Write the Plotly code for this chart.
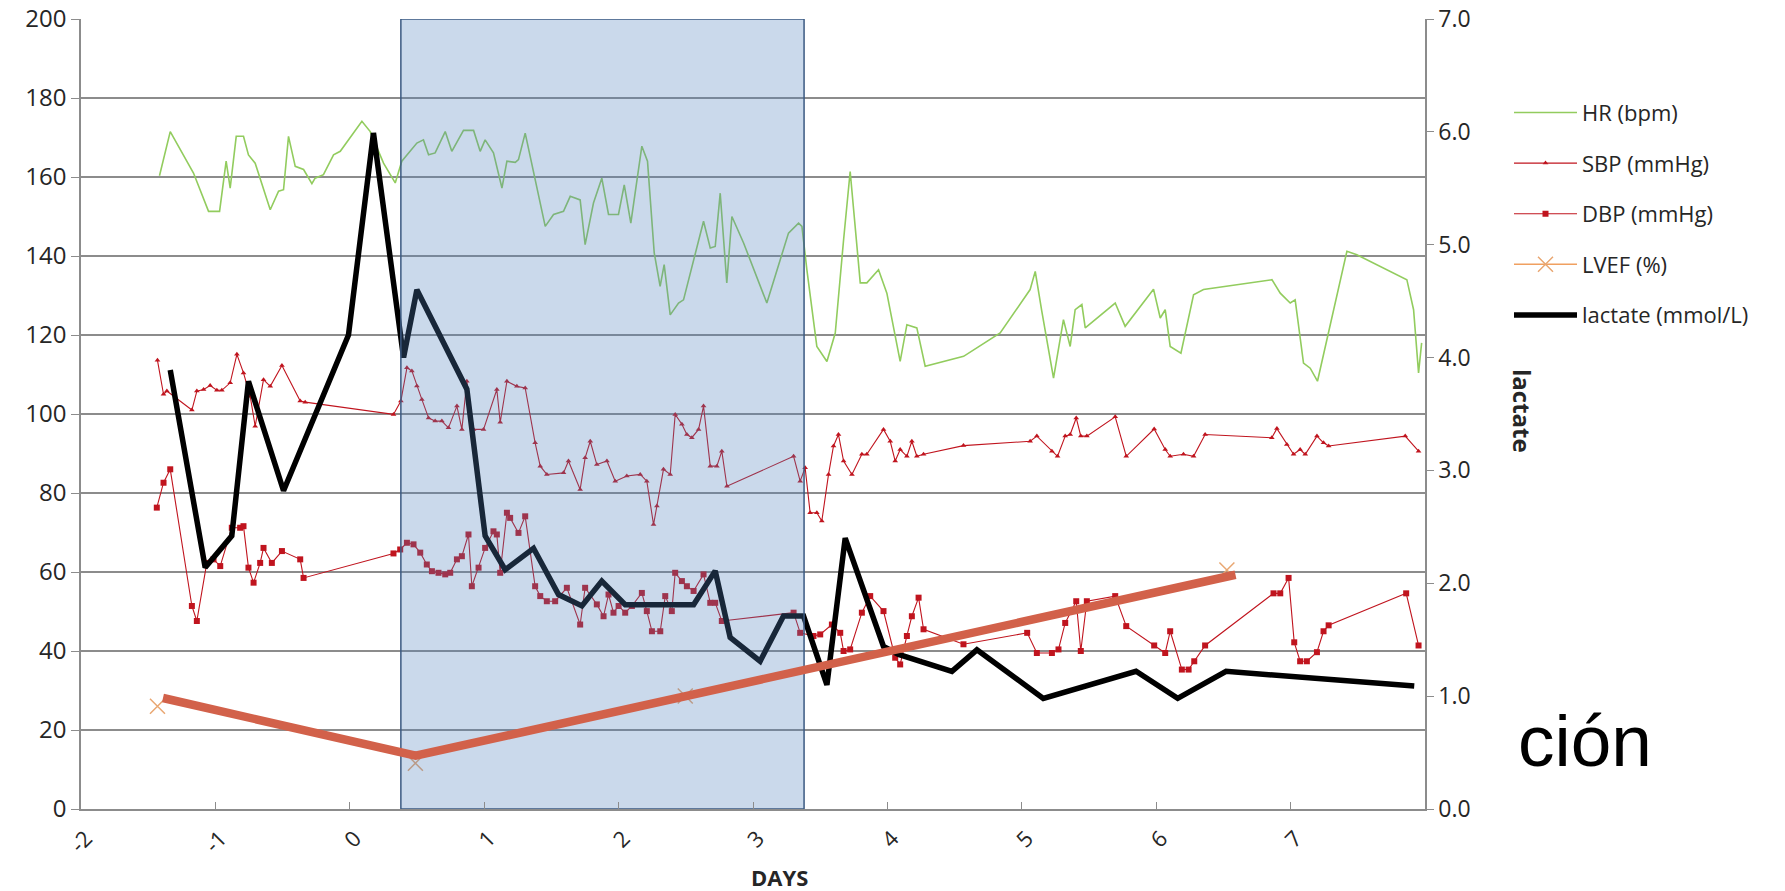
import plotly.graph_objects as go

# ---------------- data ----------------
hr_days = [-1.416, -1.336, -1.163, -1.051, -0.969, -0.920, -0.890, -0.845, -0.791, -0.754,
           -0.704, -0.592, -0.530, -0.493, -0.456, -0.406, -0.344, -0.282, -0.258, -0.196,
           -0.121, -0.071, 0.090, 0.152, 0.251, 0.338, 0.387, 0.499, 0.548, 0.586,
           0.635, 0.710, 0.759, 0.846, 0.921, 0.970, 1.007, 1.069, 1.132, 1.169,
           1.231, 1.255, 1.305, 1.454, 1.516, 1.590, 1.640, 1.714, 1.751, 1.813,
           1.875, 1.925, 1.999, 2.042, 2.091, 2.173, 2.215, 2.265, 2.309, 2.339,
           2.384, 2.446, 2.483, 2.632, 2.682, 2.719, 2.756, 2.805, 2.843, 2.930,
           3.103, 3.264, 3.339, 3.364, 3.401, 3.475, 3.550, 3.612, 3.674, 3.723,
           3.798, 3.847, 3.934, 3.996, 4.095, 4.145, 4.219, 4.281, 4.567, 4.839,
           5.062, 5.100, 5.149, 5.236, 5.310, 5.360, 5.397, 5.447, 5.472, 5.695,
           5.769, 5.980, 6.030, 6.067, 6.104, 6.184, 6.278, 6.352, 6.861, 6.923,
           6.997, 7.034, 7.096, 7.146, 7.200, 7.419, 7.493, 7.865, 7.915, 7.952,
           7.975]
hr_bpm = [160.3, 171.5, 161, 151.3, 151.3, 164, 157.2, 170.3, 170.3, 165.6,
          163.5, 151.7, 156.4, 156.8, 170.3, 162.7, 161.9, 158.3, 159.7, 160.6,
          165.6, 166.5, 174.1, 171.5, 163.5, 158.5, 164, 168.6, 169.4, 165.6,
          166.1, 171.5, 166.5, 171.8, 171.8, 166.5, 169.4, 166.1, 157.2, 164,
          163.7, 164.4, 171.1, 147.5, 150.5, 151.3, 155.1, 154.2, 142.9, 153.4,
          159.7, 150.5, 150.5, 158.0, 148.3, 167.8, 164, 140.8, 132.3, 137.8,
          125.1, 128.1, 128.9, 148.8, 142, 142.4, 155.9, 133.2, 150, 143.3,
          128.1, 145.8, 148.3, 147.5, 136.5, 117.1, 113.3, 120.5, 144.1, 161.4,
          133.2, 133.2, 136.5, 130.6, 113.3, 122.6, 121.8, 112.1, 114.6, 120.5,
          131.5, 136.1, 126, 109.1, 123.9, 117.1, 126.4, 127.7, 121.8, 128.1,
          122.2, 131.6, 124.3, 126.4, 117.1, 115.4, 130.2, 131.5, 134, 130.6,
          128.1, 128.9, 112.9, 111.6, 108.3, 141.2, 140.3, 134, 126.4, 110.4,
          118]

sbp_days = [-1.431, -1.386, -1.361, -1.175, -1.138, -1.088, -1.039, -0.989, -0.952, -0.890,
            -0.840, -0.791, -0.741, -0.704, -0.642, -0.592, -0.505, -0.369, -0.332, 0.325,
            0.380, 0.425, 0.462, 0.499, 0.536, 0.586, 0.635, 0.685, 0.734, 0.797,
            0.834, 0.871, 0.921, 0.995, 1.094, 1.119, 1.169, 1.243, 1.305, 1.379,
            1.417, 1.466, 1.590, 1.627, 1.714, 1.751, 1.789, 1.838, 1.913, 1.975,
            2.061, 2.161, 2.210, 2.260, 2.285, 2.334, 2.384, 2.421, 2.471, 2.508,
            2.545, 2.595, 2.632, 2.682, 2.731, 2.768, 2.806, 3.302, 3.351, 3.388,
            3.425, 3.475, 3.512, 3.562, 3.599, 3.636, 3.674, 3.736, 3.810, 3.847,
            3.971, 4.021, 4.058, 4.095, 4.145, 4.182, 4.219, 4.269, 4.566, 5.062,
            5.112, 5.224, 5.266, 5.323, 5.360, 5.405, 5.439, 5.484, 5.695, 5.777,
            5.985, 6.067, 6.104, 6.203, 6.278, 6.364, 6.860, 6.898, 6.972, 7.022,
            7.071, 7.109, 7.196, 7.245, 7.283, 7.853, 7.952]
sbp_mmhg = [113.6, 105, 105.8, 101, 105.8, 106.2, 107.2, 106, 106, 107.9,
            115.1, 110.4, 104.5, 96.9, 108.7, 107, 112.3, 103.3, 103, 99.9,
            103.3, 111.7, 110.9, 107.1, 103.7, 99.0, 98.2, 98.2, 96.5, 102,
            96.1, 108.3, 96.1, 96.1, 106.2, 97.9, 108.3, 107, 106.6, 92.7,
            86.8, 84.7, 85.1, 88.1, 80.9, 88.9, 93.1, 87.2, 88.1, 83,
            84.3, 84.7, 83, 72, 76.7, 86, 84.7, 99.9, 97.4, 94.8,
            94, 96.1, 102, 86.8, 86.8, 90.6, 81.7, 89.3, 83, 86.4,
            75, 75, 72.9, 84.7, 91.9, 94.8, 88.1, 84.7, 89.8, 89.8,
            96.1, 93.1, 88.1, 91, 89.3, 93.1, 89.3, 89.8, 92, 93.1,
            94.4, 90.6, 89.3, 94.4, 94.8, 99, 94.4, 94.4, 99.3, 89.3,
            96.2, 91, 89.3, 89.8, 89.3, 94.8, 94, 96.3, 92.3, 89.8,
            91, 89.8, 94.4, 92.7, 91.9, 94.4, 90.6]

dbp_days = [-1.436, -1.386, -1.336, -1.175, -1.138, -1.064, -1.014, -0.964, -0.878, -0.816,
            -0.791, -0.754, -0.716, -0.667, -0.642, -0.580, -0.505, -0.369, -0.344, 0.325,
            0.375, 0.425, 0.474, 0.524, 0.573, 0.611, 0.660, 0.710, 0.747, 0.797,
            0.834, 0.883, 0.908, 0.958, 1.007, 1.069, 1.094, 1.119, 1.169, 1.193,
            1.255, 1.305, 1.379, 1.417, 1.466, 1.528, 1.615, 1.714, 1.751, 1.838,
            1.888, 1.925, 1.962, 2.000, 2.049, 2.099, 2.173, 2.210, 2.248, 2.310,
            2.347, 2.396, 2.421, 2.471, 2.508, 2.558, 2.632, 2.682, 2.719, 2.768,
            3.302, 3.351, 3.450, 3.500, 3.587, 3.649, 3.674, 3.723, 3.810, 3.872,
            3.971, 4.058, 4.095, 4.145, 4.182, 4.232, 4.269, 4.566, 5.040, 5.112,
            5.224, 5.273, 5.323, 5.405, 5.439, 5.484, 5.695, 5.777, 5.985, 6.067,
            6.104, 6.191, 6.241, 6.283, 6.364, 6.873, 6.923, 6.985, 7.027, 7.071,
            7.121, 7.196, 7.245, 7.283, 7.860, 7.952]
dbp_mmhg = [76.3, 82.6, 86, 51.4, 47.6, 62.3, 63.2, 61.5, 71.2, 71.2,
            71.6, 61.1, 57.3, 62.3, 66.1, 62.3, 65.3, 63.2, 58.5, 64.7,
            65.7, 67.4, 67, 64.9, 61.9, 60.2, 59.8, 59.4, 59.8, 63.2,
            64, 69.5, 56.4, 61.1, 66.1, 70.3, 69.5, 59.8, 75, 73.7,
            69.9, 74.1, 56.4, 53.9, 52.6, 52.6, 56, 46.7, 56, 51.8,
            48.8, 54.3, 49.7, 51.4, 49.7, 51.4, 54.7, 50.1, 45, 45,
            53.9, 50.1, 59.8, 57.7, 56.4, 55.2, 59.4, 52.2, 52.2, 47.6,
            49.7, 44.6, 43.8, 44.2, 46.7, 44.6, 40, 40.4, 49.7, 53.9,
            50.1, 38.3, 36.6, 43.8, 48.8, 53.5, 45.5, 41.7, 44.6, 39.5,
            39.5, 40.4, 47.1, 52.6, 40, 52.6, 53.9, 46.3, 41.4, 39.5,
            45, 35.3, 35.3, 37.4, 41.4, 54.6, 54.6, 58.5, 42.2, 37.4,
            37.4, 39.7, 45, 46.5, 54.6, 41.4]

lvef_days = [-1.431, 0.488, 2.496, 6.526]
lvef_pct = [26, 11.6, 28.6, 60.5]

lvef_trend_days = [-1.39, 0.49, 6.59]
lvef_trend_pct = [28.1, 13.5, 59.3]

lactate_days = [-1.336, -1.076, -0.878, -0.754, -0.493, -0.010, 0.176, 0.400, 0.499, 0.871,
                1.007, 1.156, 1.367, 1.553, 1.727, 1.875, 2.049, 2.558, 2.719, 2.830,
                3.053, 3.227, 3.376, 3.550, 3.686, 3.971, 4.083, 4.480, 4.666, 5.160,
                5.850, 6.160, 6.520, 7.920]
lactate_mmol = [3.89, 2.14, 2.42, 3.79, 2.82, 4.2, 5.99, 4.0, 4.60, 3.72,
                2.42, 2.12, 2.31, 1.90, 1.80, 2.02, 1.81, 1.81, 2.11, 1.52,
                1.31, 1.71, 1.71, 1.10, 2.40, 1.44, 1.37, 1.22, 1.41, 0.98,
                1.22, 0.98, 1.22, 1.09]

shaded_start_day = 0.38
shaded_end_day = 3.38

x_tick_vals = [-2, -1, 0, 1, 2, 3, 4, 5, 6, 7]
x_tick_text = ["-2", "-1", "0", "1", "2", "3", "4", "5", "6", "7"]

# ---------------- figure ----------------
RED = "#c0141e"
GRID = "#8c8c8c"
FONT = "Open Sans"
LVEF_LINE = "#f0a060"
LVEF_X = "#e9a772"

fig = go.Figure()

fig.add_trace(go.Scatter(x=hr_days, y=hr_bpm, mode="lines", name="HR (bpm)",
                         line=dict(color="#92cc5e", width=1.6), legendgroup="a"))
fig.add_trace(go.Scatter(x=sbp_days, y=sbp_mmhg, mode="lines+markers", name="SBP (mmHg)",
                         line=dict(color=RED, width=1.1),
                         marker=dict(symbol="triangle-up", size=5, color=RED),
                         legendgroup="b"))
fig.add_trace(go.Scatter(x=dbp_days, y=dbp_mmhg, mode="lines+markers", name="DBP (mmHg)",
                         line=dict(color=RED, width=1.1),
                         marker=dict(symbol="square", size=6, color=RED),
                         legendgroup="c"))
# LVEF measurements (markers on the chart, line+marker sample in the legend)
fig.add_trace(go.Scatter(x=lvef_days, y=lvef_pct, mode="markers", name="LVEF (%)",
                         marker=dict(symbol="x-thin", size=15,
                                     line=dict(color=LVEF_X, width=1.5)),
                         legendgroup="d", showlegend=False))
fig.add_trace(go.Scatter(x=[None], y=[None], mode="lines+markers", name="LVEF (%)",
                         line=dict(color=LVEF_LINE, width=1.5),
                         marker=dict(symbol="x-thin", size=15,
                                     line=dict(color=LVEF_X, width=1.5)),
                         legendgroup="d"))
fig.add_trace(go.Scatter(x=lactate_days, y=lactate_mmol, mode="lines", name="lactate (mmol/L)",
                         line=dict(color="#000000", width=5.5), yaxis="y2", legendgroup="e"))
# shaded period drawn over the data (translucent)
fig.add_trace(go.Scatter(x=[shaded_start_day, shaded_end_day, shaded_end_day, shaded_start_day, shaded_start_day],
                         y=[0, 0, 7, 7, 0], mode="lines", fill="toself",
                         fillcolor="rgba(79,129,189,0.30)",
                         line=dict(color="#3b5a82", width=1.5),
                         yaxis="y2", showlegend=False, hoverinfo="skip"))
# thick LVEF trend overlay
fig.add_trace(go.Scatter(x=lvef_trend_days, y=lvef_trend_pct, mode="lines",
                         line=dict(color="#d2614a", width=8.5), yaxis="y3",
                         showlegend=False, hoverinfo="skip"))

fig.update_layout(
    width=1785, height=891,
    margin=dict(l=81, r=360, t=19, b=82, autoexpand=False),
    paper_bgcolor="white", plot_bgcolor="white",
    font=dict(family=FONT, size=20, color="#262626"),
    xaxis=dict(range=[-2, 8], tickvals=x_tick_vals, ticktext=x_tick_text,
               tickangle=-45, ticks="inside", ticklen=7, tickcolor=GRID,
               ticklabelstandoff=6, ticklabelshift=5, ticklabeloverflow="allow",
               showline=True, linecolor=GRID, linewidth=2, automargin=False,
               showgrid=False, zeroline=False, tickfont=dict(size=22)),
    yaxis=dict(range=[0, 200], dtick=20, ticks="outside", ticklen=8, tickcolor=GRID,
               showgrid=True, gridcolor=GRID, gridwidth=2, automargin=False,
               ticklabeloverflow="allow",
               showline=True, linecolor=GRID, linewidth=1.5, zeroline=False,
               tickfont=dict(size=24)),
    yaxis2=dict(range=[0, 7], dtick=1, tickformat=".1f", overlaying="y", side="right",
                ticks="outside", ticklen=7, tickcolor=GRID, automargin=False,
                ticklabeloverflow="allow",
                showline=True, linecolor=GRID, linewidth=1.5,
                showgrid=False, zeroline=False, tickfont=dict(size=23)),
    yaxis3=dict(range=[0, 200], overlaying="y", visible=False),
    showlegend=True,
    legend=dict(x=1.0625, y=0.908, xanchor="left", yanchor="top",
                font=dict(size=22, color="#262626"), tracegroupgap=19,
                itemwidth=63, bgcolor="rgba(0,0,0,0)", traceorder="grouped"),
    annotations=[
        dict(text="<b>DAYS</b>", xref="paper", yref="paper", x=0.520, y=-0.107,
             showarrow=False, font=dict(size=22, color="#262626")),
        dict(text="<b>lactate</b>", xref="paper", yref="paper", x=1.0858, y=0.504,
             textangle=90, showarrow=False, font=dict(size=24, color="#262626")),
        dict(text="ción", xref="paper", yref="paper", x=1.068, y=0.087,
             xanchor="left", yanchor="middle", showarrow=False,
             font=dict(family="Liberation Sans", size=73, color="#000000")),
    ],
)

fig.write_html("out.html",
               config={"displayModeBar": False},
               post_script="document.body.style.margin='0px';document.body.style.overflow='hidden';")
